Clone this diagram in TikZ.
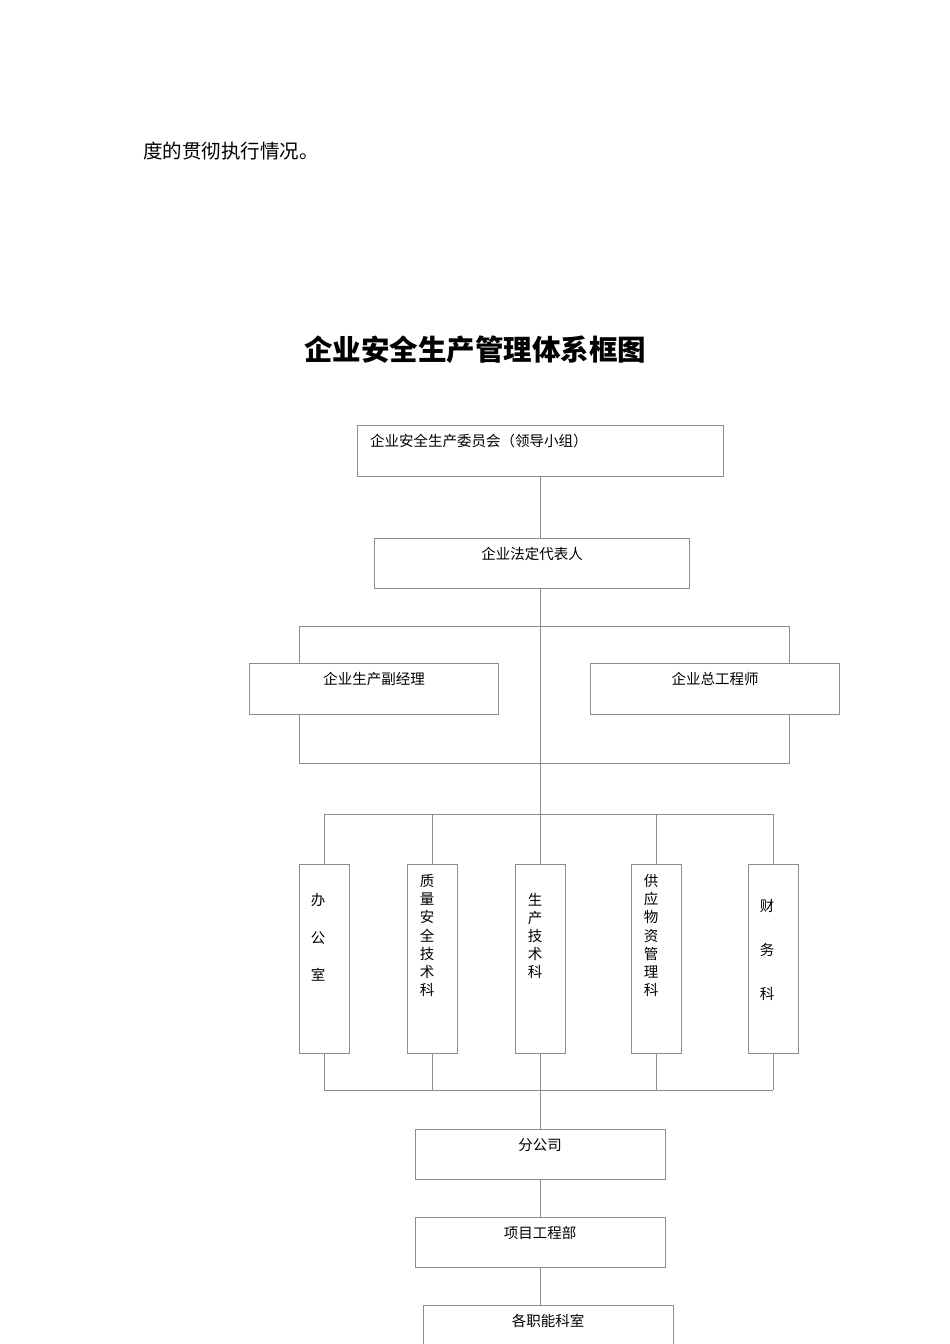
\documentclass[tikz,border=0pt]{standalone}
\usepackage{fontspec}
\newfontfamily\cjk{Noto Sans CJK SC}
\begin{document}
\begin{tikzpicture}[x=1pt,y=-1pt,
  bx/.style={draw=black!45,line width=0.6pt},
  ln/.style={draw=black!45,line width=0.6pt},
  t/.style={font=\cjk\fontsize{14.5}{16}\selectfont,inner sep=0pt}]
\useasboundingbox (0,0) rectangle (950,1344);
\node[font=\cjk\fontsize{19.5}{22}\selectfont,anchor=west,inner sep=0] (p) at (143,151) {度的贯彻执行情况。};
\node[font=\cjk\bfseries\fontsize{28.5}{30}\selectfont,inner sep=0] (title) at (475,350) {企业安全生产管理体系框图};
\draw[ln] (299,626) rectangle (789,763);
\draw[ln] (540,476) -- (540,1129);
\draw[ln] (324,814) -- (773,814);
\draw[ln] (324,1090) -- (773,1090);
\foreach \x in {324,432,540,656,773}{\draw[ln] (\x,814) -- (\x,864); \draw[ln] (\x,1053) -- (\x,1090);}
\draw[bx,fill=white] (357,425) rectangle (723,476);
\node[t,anchor=west] (b1) at (370,441) {企业安全生产委员会（领导小组）};
\draw[bx,fill=white] (374,538) rectangle (689,588);
\node[t] (b2) at (532,554) {企业法定代表人};
\draw[bx,fill=white] (249,663) rectangle (498,714);
\node[t] (b3) at (374,679) {企业生产副经理};
\draw[bx,fill=white] (590,663) rectangle (839,714);
\node[t] (b4) at (715,679) {企业总工程师};
\foreach \x in {299,407,515,631,748}{\draw[bx,fill=white] (\x,864) rectangle (\x+50,1053);}
\node[t] (o1) at (318,900) {办}; \node[t] at (318,938) {公}; \node[t] at (318,975) {室};
\foreach \c [count=\i from 0] in {质,量,安,全,技,术,科}{\node[t] at (427,881+18.2*\i) {\c};}
\foreach \c [count=\i from 0] in {生,产,技,术,科}{\node[t] at (535,900+18*\i) {\c};}
\foreach \c [count=\i from 0] in {供,应,物,资,管,理,科}{\node[t] at (651,881+18.2*\i) {\c};}
\node[t] at (767,906) {财}; \node[t] at (767,950) {务}; \node[t] at (767,994) {科};
\draw[bx,fill=white] (415,1129) rectangle (665,1179);
\node[t] (b5) at (540,1145) {分公司};
\draw[ln] (540,1179) -- (540,1217);
\draw[bx,fill=white] (415,1217) rectangle (665,1267);
\node[t] (b6) at (540,1233) {项目工程部};
\draw[ln] (540,1267) -- (540,1305);
\draw[bx] (423,1360) -- (423,1305) -- (673,1305) -- (673,1360);
\node[t] (b7) at (548,1321) {各职能科室};
\end{tikzpicture}
\end{document}
